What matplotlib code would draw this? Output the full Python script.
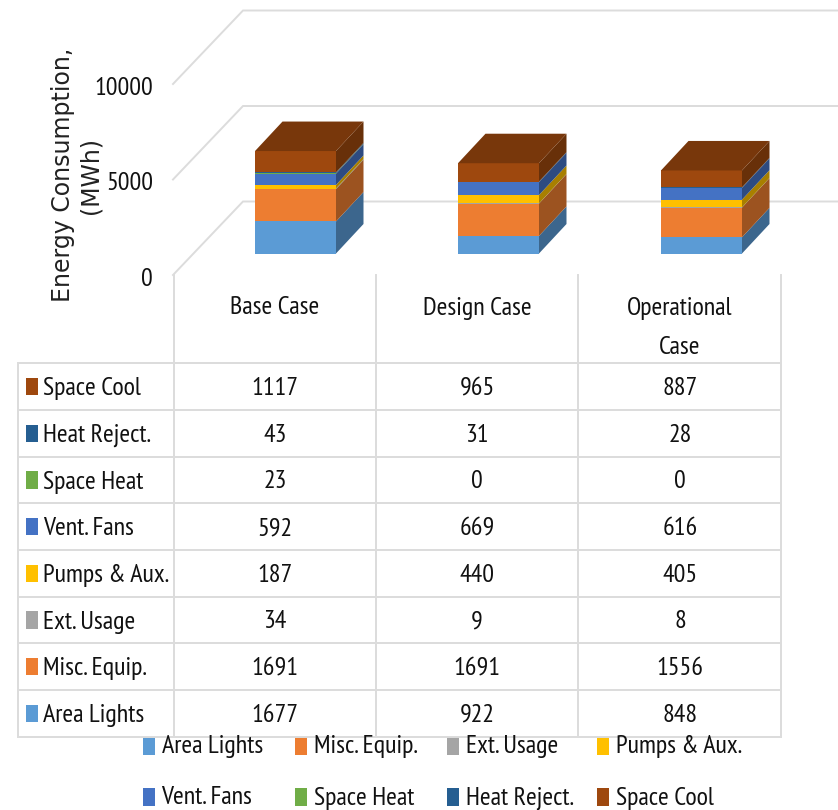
import matplotlib
matplotlib.use("Agg")
import matplotlib.pyplot as plt
from matplotlib.patches import Polygon, Rectangle
from matplotlib.colors import to_rgb

W, H = 838, 810
FONT = ["PT Sans Narrow", "Archivo Narrow", "Roboto Condensed", "Liberation Sans", "DejaVu Sans"]
TEXT_SIZE = 18.7
INK = "#111111"
TEXT_DROP = 2.0

cases = ["Base Case", "Design Case", "Operational\nCase"]
series = ["Area Lights", "Misc. Equip.", "Ext. Usage", "Pumps & Aux.",
          "Vent. Fans", "Space Heat", "Heat Reject.", "Space Cool"]
area_lights = [1677, 922, 848]
misc_equip = [1691, 1691, 1556]
ext_usage = [34, 9, 8]
pumps_aux = [187, 440, 405]
vent_fans = [592, 669, 616]
space_heat = [23, 0, 0]
heat_reject = [43, 31, 28]
space_cool = [1117, 965, 887]
stack = [area_lights, misc_equip, ext_usage, pumps_aux,
         vent_fans, space_heat, heat_reject, space_cool]
colors = ["#5B9BD5", "#ED7D31", "#A5A5A5", "#FFC000",
          "#4472C4", "#70AD47", "#255E91", "#9E480E"]
y_ticks = [0, 5000, 10000]
y_title = ["Energy Consumption,", "(MWh)"]

GRID = "#DCDCDC"
PX_PER_UNIT = 0.0191
BASE_PX = 253.5
X0_PX, STEP_PX = 295.5, 203.0
BAR_W = 81.0 / STEP_PX
DX = 27.5 / STEP_PX
DY = 29.5 / PX_PER_UNIT


def shade(color, factor):
    return tuple(c * factor for c in to_rgb(color))


fig = plt.figure(figsize=(W / 100, H / 100), dpi=100, facecolor="white")

# Chart plane: x in category positions, y in MWh
ax = fig.add_axes([0, 0, 1, 1])
ax.set_xlim(-X0_PX / STEP_PX, (W - X0_PX) / STEP_PX)
ax.set_ylim(-(H - BASE_PX) / PX_PER_UNIT, BASE_PX / PX_PER_UNIT)
ax.axis("off")

# Pixel-aligned layer for the table and legend
ov = fig.add_axes([0, 0, 1, 1], facecolor="none")
ov.set_xlim(0, W)
ov.set_ylim(H, 0)
ov.axis("off")


def label(x, y, s, ha="center"):
    ov.text(x, y + TEXT_DROP, s, ha=ha, va="center", fontsize=TEXT_SIZE,
            family=FONT, color=INK)


# Walls and floor grid, with the depth running back to the upper right
floor_drop = 21.5 / PX_PER_UNIT
x_front = (173 - X0_PX) / STEP_PX
x_back = (243 - X0_PX) / STEP_PX
x_end = (W - X0_PX) / STEP_PX
back_rise = 73.5 / PX_PER_UNIT
for v in y_ticks:
    y_f = v - floor_drop
    ax.plot([x_front, x_back, x_end], [y_f, y_f + back_rise, y_f + back_rise],
            color=GRID, lw=1.4, solid_joinstyle="miter", zorder=1)
    label(153, BASE_PX + 24 - v * PX_PER_UNIT, f"{v}", ha="right")

# Stacked boxes: front face, right side, top
for i in range(len(cases)):
    left, right = i - BAR_W / 2, i + BAR_W / 2
    bottom = 0
    for vals, col in zip(stack, colors):
        v = vals[i]
        if v == 0:
            continue
        top = bottom + v
        ax.bar(i, v, BAR_W, bottom=bottom, color=col, linewidth=0, zorder=3)
        ax.add_patch(Polygon([(right, bottom), (right + DX, bottom + DY),
                              (right + DX, top + DY), (right, top)],
                             closed=True, facecolor=shade(col, 0.66),
                             edgecolor="none", zorder=3))
        bottom = top
    ax.add_patch(Polygon([(left, bottom), (right, bottom),
                          (right + DX, bottom + DY), (left + DX, bottom + DY)],
                         closed=True, facecolor=shade(colors[-1], 0.76),
                         edgecolor="none", zorder=4))

# Data table
col_x = [18, 174, 376, 578, 781]
row_y = [363, 410, 457, 503, 550, 597, 643, 690, 737]
for x in col_x[1:]:
    ov.plot([x, x], [275, row_y[-1]], color=GRID, lw=1.4, zorder=2)
ov.plot([col_x[0]] * 2, [row_y[0], row_y[-1]], color=GRID, lw=1.4, zorder=2)
for y in row_y:
    ov.plot([col_x[0], col_x[-1]], [y, y], color=GRID, lw=1.4, zorder=2)

centers = [275, 477, 680]
label(centers[0], 306, cases[0])
label(centers[1], 306, cases[1])
for line, y in zip(cases[2].split("\n"), (306, 346)):
    label(centers[2], y, line)

for r, idx in enumerate(range(len(series) - 1, -1, -1)):
    yc = (row_y[r] + row_y[r + 1]) / 2
    ov.add_patch(Rectangle((25.5, yc - 9), 12, 17.5, facecolor=colors[idx], edgecolor="none"))
    label(43, yc, series[idx], ha="left")
    for c, xc in enumerate(centers):
        label(xc, yc, f"{stack[idx][c]}")

# Legend, two rows of four
leg_x = [143, 295, 447, 597]
leg_y = [745, 796]
for k, (name, col) in enumerate(zip(series, colors)):
    x = leg_x[k % 4]
    y = leg_y[k // 4]
    ov.add_patch(Rectangle((x, y - 8), 12, 17.5, facecolor=col, edgecolor="none"))
    label(x + 18.5, y, name, ha="left")

# Rotated axis title, one text per line
for line, x in zip(y_title, (63, 90)):
    ov.text(x, 175, line, rotation=90, ha="center", va="center",
            fontsize=17, family="DejaVu Sans", color="#222222")

fig.savefig("out.png", dpi=100, facecolor="white")
